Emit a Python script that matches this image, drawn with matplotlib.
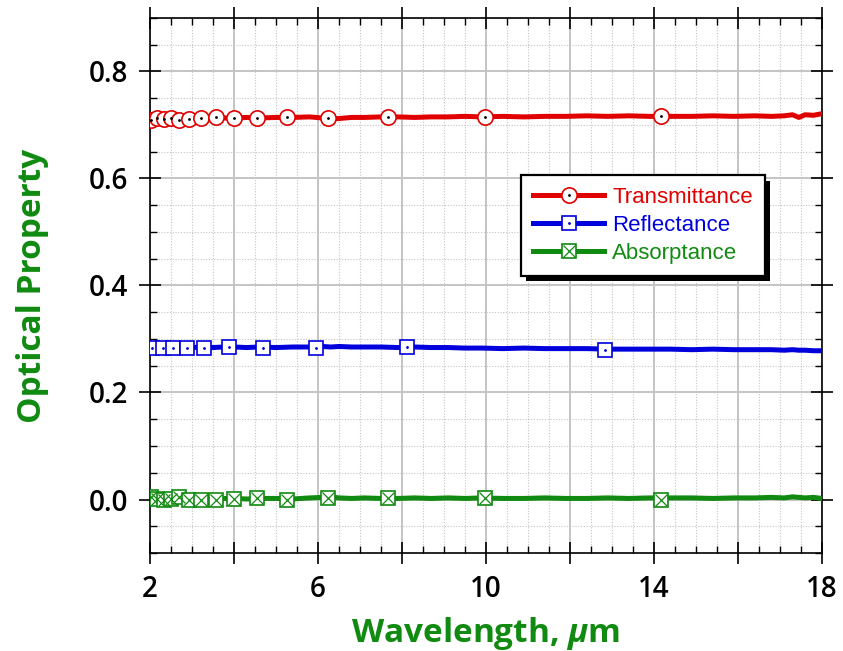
import numpy as np
import matplotlib
matplotlib.use("Agg")
import matplotlib.pyplot as plt
import matplotlib.patheffects as pe
from matplotlib.ticker import MultipleLocator, FuncFormatter

plt.rcParams['font.family'] = ['Open Sans', 'DejaVu Sans']
plt.rcParams['mathtext.fontset'] = 'custom'
plt.rcParams['mathtext.it'] = 'Open Sans:italic:bold'
plt.rcParams['mathtext.rm'] = 'Open Sans:bold'

# Measured spectra (wavelength in micrometres)
wl_line = [2.0, 2.15, 2.3, 2.45, 2.6, 2.8, 3.0, 3.25, 3.5, 3.75, 4.0, 4.3, 4.6, 5.0,
           5.4, 5.8, 6.1, 6.3, 6.5, 6.8, 7.1, 7.5, 7.9, 8.3, 8.7, 9.1, 9.5, 9.9,
           10.4, 10.9, 11.4, 11.9, 12.4, 12.9, 13.4, 13.9, 14.4, 14.9, 15.4, 15.9,
           16.4, 16.8, 17.1, 17.3, 17.45, 17.6, 17.8, 18.0]
trans_line = [0.709, 0.712, 0.710, 0.713, 0.711, 0.713, 0.712, 0.714, 0.713, 0.713,
              0.713, 0.714, 0.713, 0.714, 0.714, 0.715, 0.713, 0.711, 0.712, 0.714,
              0.714, 0.715, 0.715, 0.714, 0.715, 0.715, 0.716, 0.715, 0.716, 0.715,
              0.716, 0.716, 0.717, 0.716, 0.717, 0.716, 0.716, 0.716, 0.717, 0.716,
              0.717, 0.716, 0.717, 0.719, 0.714, 0.719, 0.718, 0.721]
refl_line = [0.284, 0.285, 0.284, 0.285, 0.284, 0.285, 0.284, 0.285, 0.284, 0.285,
             0.285, 0.284, 0.285, 0.284, 0.285, 0.285, 0.286, 0.285, 0.286, 0.285,
             0.285, 0.285, 0.284, 0.285, 0.284, 0.284, 0.283, 0.283, 0.282, 0.283,
             0.282, 0.282, 0.282, 0.281, 0.281, 0.281, 0.281, 0.280, 0.281, 0.280,
             0.280, 0.280, 0.279, 0.280, 0.279, 0.279, 0.278, 0.278]
abs_line = [0.005, 0.002, 0.001, 0.003, 0.002, 0.001, 0.001, 0.002, 0.001, 0.002,
            0.002, 0.001, 0.002, 0.002, 0.001, 0.003, 0.004, 0.005, 0.003, 0.002,
            0.003, 0.002, 0.002, 0.003, 0.002, 0.003, 0.002, 0.003, 0.002, 0.002,
            0.003, 0.002, 0.002, 0.003, 0.002, 0.003, 0.003, 0.003, 0.002, 0.003,
            0.003, 0.004, 0.003, 0.005, 0.004, 0.003, 0.004, 0.002]

# Marker positions along each curve
wl_mark_ta = [2.02, 2.17, 2.33, 2.5, 2.69, 2.93, 3.21, 3.57, 4.0, 4.55, 5.26, 6.24,
              7.67, 9.98, 14.17]
trans_mark = [0.709, 0.713, 0.711, 0.713, 0.710, 0.712, 0.713, 0.714, 0.713, 0.713,
              0.714, 0.713, 0.715, 0.715, 0.717]
abs_mark = [0.005, 0.001, 0.000, 0.001, 0.004, 0.000, 0.000, 0.000, 0.001, 0.002,
            0.000, 0.003, 0.002, 0.002, 0.000]
wl_mark_r = [2.05, 2.31, 2.55, 2.88, 3.29, 3.88, 4.69, 5.95, 8.12, 12.83]
refl_mark = [0.283, 0.284, 0.284, 0.283, 0.283, 0.285, 0.283, 0.284, 0.285, 0.280]

red = '#e00000'
blue = '#0000dd'
green = '#108a10'

fig = plt.figure(figsize=(8.43, 6.51), dpi=100)
ax = fig.add_axes([0.178, 0.1505, 0.797, 0.822])

lw = 3.6
ax.plot(wl_line, trans_line, color=red, lw=lw, zorder=3)
ax.plot(wl_line, refl_line, color=blue, lw=lw, zorder=3)
ax.plot(wl_line, abs_line, color=green, lw=lw, zorder=3)

ms = 11
t_m, = ax.plot(wl_mark_ta, trans_mark, 'o', ms=ms, mfc='white', mec=red, mew=1.2,
               color=red, lw=lw, zorder=4)
t_d, = ax.plot(wl_mark_ta, trans_mark, '.', ms=2, color='k', zorder=5)
r_m, = ax.plot(wl_mark_r, refl_mark, 's', ms=ms - 1, mfc='white', mec=blue, mew=1.2,
               color=blue, lw=lw, zorder=4)
r_d, = ax.plot(wl_mark_r, refl_mark, '.', ms=2, color=blue, zorder=5)
a_m, = ax.plot(wl_mark_ta, abs_mark, 's', ms=ms - 1, mfc='white', mec=green, mew=1.2,
               color=green, lw=lw, zorder=4)
a_x, = ax.plot(wl_mark_ta, abs_mark, 'x', ms=ms - 3, mec=green, mew=0.9, zorder=5)

# Legend entries: line + marker overlays
h_t, = ax.plot([], [], '-o', color=red, lw=lw, ms=ms, mfc='white', mec=red, mew=1.2)
h_r, = ax.plot([], [], '-s', color=blue, lw=lw, ms=ms - 1, mfc='white', mec=blue, mew=1.2)
h_a, = ax.plot([], [], '-s', color=green, lw=lw, ms=ms - 1, mfc='white', mec=green, mew=1.2)
leg = ax.legend([(h_t, t_d), (h_r, r_d), (h_a, a_x)],
                ['Transmittance', 'Reflectance', 'Absorptance'],
                loc='upper left', bbox_to_anchor=(0.552, 0.7065), borderaxespad=0,
                prop={'family': 'Liberation Sans', 'size': 16}, numpoints=1,
                handlelength=3.2, handletextpad=0.35, labelspacing=0.3,
                borderpad=0.55, fancybox=False, framealpha=1, edgecolor='black')
leg.get_frame().set_linewidth(1.6)
leg.get_frame().set_path_effects([
    pe.SimplePatchShadow(offset=(4, -4), shadow_rgbFace='black', alpha=1),
    pe.Normal()])
for txt, c in zip(leg.get_texts(), [red, blue, green]):
    txt.set_color(c)
leg.set_zorder(10)

ax.set_xlim(2, 18)
ax.set_ylim(-0.1, 0.9)
ax.xaxis.set_major_locator(MultipleLocator(2))
ax.xaxis.set_minor_locator(MultipleLocator(0.5))
ax.xaxis.set_major_formatter(FuncFormatter(
    lambda v, p: f'{v:.0f}' if round(v) % 4 == 2 else ''))
ax.yaxis.set_major_locator(MultipleLocator(0.2))
ax.yaxis.set_minor_locator(MultipleLocator(0.05))
ax.yaxis.set_major_formatter(FuncFormatter(lambda v, p: f'{v:.1f}'))

ax.grid(which='major', color='#c4c4c4', lw=1.4, ls='-', zorder=0)
ax.grid(which='minor', color='#c4c4c4', lw=0.8, ls=(0, (1, 1.5)), zorder=0)
ax.set_axisbelow(True)

ax.tick_params(which='major', direction='inout', length=16, width=1.2,
               top=True, right=True, labelsize=20, pad=8)
ax.tick_params(which='minor', direction='in', length=5, width=1,
               top=True, right=True)
for lab in ax.get_xticklabels() + ax.get_yticklabels():
    lab.set_fontweight('semibold')
for s in ax.spines.values():
    s.set_linewidth(1.2)

ax.set_xlabel(r'Wavelength, $\mu$m', fontsize=24, fontweight='bold',
              color=green, labelpad=8)
ax.set_ylabel('Optical Property', fontsize=24, fontweight='bold',
              color=green, labelpad=28)

fig.savefig('out.png', dpi=100)
